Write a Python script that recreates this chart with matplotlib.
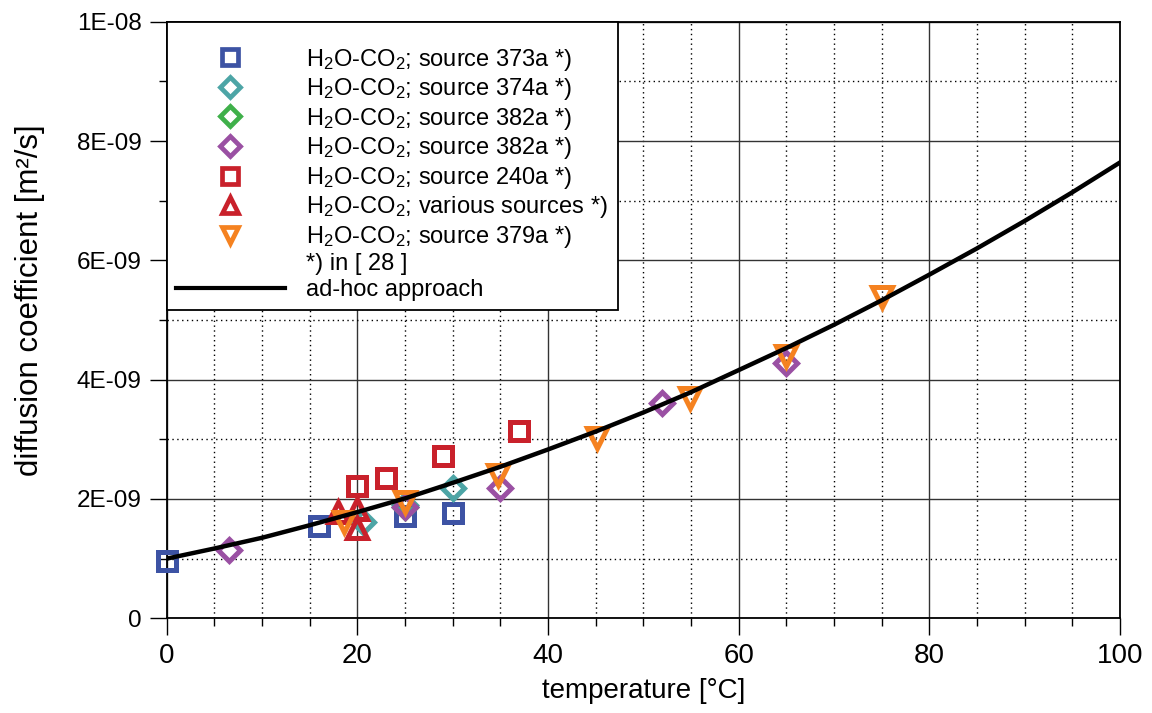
import numpy as np
import matplotlib
matplotlib.use("Agg")
import matplotlib.pyplot as plt
from matplotlib.lines import Line2D
from matplotlib.ticker import MultipleLocator, FuncFormatter

plt.rcParams['font.family'] = ['Liberation Sans', 'DejaVu Sans']
plt.rcParams['mathtext.fontset'] = 'custom'
plt.rcParams['mathtext.rm'] = 'Liberation Sans'
plt.rcParams['mathtext.it'] = 'Liberation Sans'

# measured diffusion coefficients (temperature in degC, D in 1E-09 m2/s)
t_373a = [0, 16, 25, 30]
d_373a = [0.96, 1.55, 1.71, 1.76]
t_374a = [20.6, 25, 30]
d_374a = [1.62, 1.90, 2.18]
t_382a_g = [25]
d_382a_g = [1.87]
t_382a_p = [6.5, 25, 35, 52, 65]
d_382a_p = [1.145, 1.87, 2.18, 3.61, 4.28]
t_240a = [20, 23, 29, 37]
d_240a = [2.22, 2.36, 2.72, 3.14]
t_various = [18, 20, 20]
d_various = [1.78, 1.84, 1.52]
t_379a = [18.6, 25, 34.8, 45.1, 54.9, 65, 75]
d_379a = [1.62, 1.95, 2.40, 3.02, 3.69, 4.39, 5.39]

# ad-hoc approach curve
t_adhoc = [0, 5, 10, 15, 20, 25, 30, 35, 40, 45, 50, 55, 60, 65, 70, 75, 80, 85, 90, 95, 100]
d_adhoc = [1.00, 1.17, 1.35, 1.56, 1.78, 2.01, 2.27, 2.54, 2.83, 3.13, 3.45, 3.79, 4.16,
           4.53, 4.92, 5.33, 5.76, 6.20, 6.66, 7.14, 7.64]

series = [
    (t_373a, d_373a, 's', '#3d53a4', 'H$_2$O-CO$_2$; source 373a *)'),
    (t_374a, d_374a, 'D', '#4da5a6', 'H$_2$O-CO$_2$; source 374a *)'),
    (t_382a_g, d_382a_g, 'D', '#3fb04a', 'H$_2$O-CO$_2$; source 382a *)'),
    (t_382a_p, d_382a_p, 'D', '#9a50a3', 'H$_2$O-CO$_2$; source 382a *)'),
    (t_240a, d_240a, 's', '#c9212b', 'H$_2$O-CO$_2$; source 240a *)'),
    (t_various, d_various, '^', '#c9212b', 'H$_2$O-CO$_2$; various sources *)'),
    (t_379a, d_379a, 'v', '#f58220', 'H$_2$O-CO$_2$; source 379a *)'),
]
msize = {'s': 13, 'D': 11.5, '^': 14, 'v': 14}

fig = plt.figure(figsize=(11.52, 7.13), dpi=100)
ax = fig.add_axes([0.1447, 0.1328, 0.8275, 0.8368])

handles = []
for t, d, m, c, lab in series:
    ax.plot(np.array(t), np.array(d) * 1e-9, linestyle='none', marker=m, ms=msize[m],
            mfc='none', mec=c, mew=3.6, zorder=3, clip_on=False)
    handles.append(Line2D([], [], linestyle='none', marker=m, ms=msize[m] * 0.85,
                          mfc='none', mec=c, mew=3.4))
labels = [s[4] for s in series]

ax.plot(t_adhoc, np.array(d_adhoc) * 1e-9, color='black', lw=3.2, zorder=4)

handles.append(Line2D([], [], linestyle='none'))
labels.append('*) in [ 28 ]')
handles.append(Line2D([], [], color='black', lw=3))
labels.append('ad-hoc approach')

ax.set_xlim(0, 100)
ax.set_ylim(0, 1e-8)
ax.xaxis.set_major_locator(MultipleLocator(20))
ax.xaxis.set_minor_locator(MultipleLocator(5))
ax.yaxis.set_major_locator(MultipleLocator(2e-9))
ax.yaxis.set_minor_locator(MultipleLocator(1e-9))


def sci(v, pos):
    if abs(v) < 1e-15:
        return '0'
    m, e = ('%.0E' % v).split('E')
    return '%sE%s%02d' % (m, '-' if int(e) < 0 else '', abs(int(e)))


ax.yaxis.set_major_formatter(FuncFormatter(sci))
ax.tick_params(which='major', direction='out', length=12, width=1.0, pad=6)
ax.tick_params(axis='x', which='major', labelsize=20)
ax.tick_params(axis='y', which='major', labelsize=17.5)
ax.tick_params(which='minor', direction='out', length=6, width=1.0)

ax.grid(which='major', color='#333333', lw=1.0, ls='-')
ax.grid(which='minor', color='black', lw=1.0, ls=(0, (1, 2.5)))
ax.set_axisbelow(True)
for sp in ax.spines.values():
    sp.set_linewidth(1.3)

ax.set_xlabel('temperature [°C]', fontsize=20, labelpad=6)
ax.set_ylabel('diffusion coefficient [m²/s]', fontsize=22.5)
ax.yaxis.set_label_coords(-0.128, 0.533)

leg = ax.legend(handles, labels, loc='upper left', bbox_to_anchor=(0, 1), borderaxespad=0,
                fontsize=17, frameon=True, fancybox=False, handlelength=4.6,
                handletextpad=0.92, labelspacing=0.15, borderpad=0.4,
                title=' ', title_fontsize=9)
leg.get_frame().set_edgecolor('black')
leg.get_frame().set_linewidth(1.3)
leg.get_frame().set_alpha(1)
leg.set_zorder(10)

fig.savefig('out.png', dpi=100)
